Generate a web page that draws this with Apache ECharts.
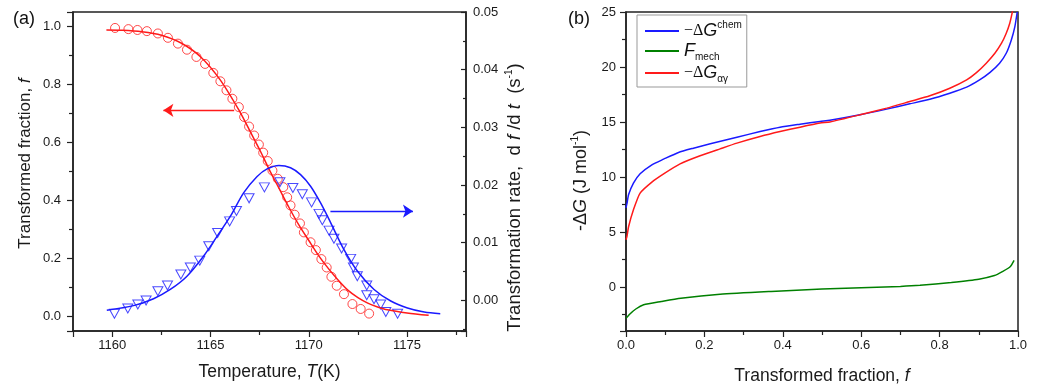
<!DOCTYPE html>
<html>
<head>
<meta charset="utf-8">
<script src="https://cdn.jsdelivr.net/npm/echarts@6/dist/echarts.min.js"></script>
<style>
html,body{margin:0;padding:0;background:#fff;}
#chart{width:1038px;height:391px;}
</style>
</head>
<body>
<div id="chart"></div>
<script>
// ---------- Panel (a): transformed fraction & transformation rate vs temperature ----------
const tempExpF = [1160.14,1160.82,1161.28,1161.76,1162.32,1162.83,1163.34,1163.80,1164.28,1164.72,1165.14,1165.50,1165.81,1166.11,1166.44,1166.71,1166.96,1167.22,1167.46,1167.68,1167.91,1168.15,1168.42,1168.70,1168.90,1169.07,1169.28,1169.55,1169.75,1170.09,1170.36,1170.64,1170.91,1171.15,1171.42,1171.79,1172.22,1172.64,1173.07];
const fracExp = [0.995,0.991,0.988,0.984,0.976,0.961,0.941,0.920,0.895,0.871,0.840,0.811,0.780,0.751,0.722,0.688,0.655,0.624,0.593,0.565,0.536,0.503,0.475,0.446,0.411,0.383,0.351,0.321,0.290,0.256,0.229,0.198,0.169,0.137,0.106,0.077,0.043,0.026,0.010];

const tempFitF = [1159.7,1160.5,1161.5,1162.5,1163.5,1164.5,1165.5,1166.5,1167.0,1167.5,1168.0,1168.5,1169.0,1169.5,1170.0,1170.5,1171.0,1171.5,1172.0,1172.5,1173.0,1173.5,1174.0,1175.0,1176.1];
const fracFit = [0.988,0.987,0.982,0.970,0.943,0.895,0.815,0.705,0.640,0.575,0.505,0.440,0.375,0.315,0.262,0.210,0.165,0.125,0.090,0.065,0.046,0.033,0.023,0.012,0.004];

const tempExpR = [1160.11,1160.79,1161.30,1161.72,1162.32,1162.81,1163.49,1163.97,1164.45,1164.91,1165.36,1165.97,1166.32,1166.96,1167.74,1168.53,1169.19,1169.67,1170.14,1170.52,1170.69,1171.03,1171.28,1171.67,1172.13,1172.27,1172.47,1172.95,1172.95,1173.32,1173.66,1173.92,1174.52];
const rateExp = [-0.0023,-0.0014,-0.0007,0.0000,0.0016,0.0026,0.0045,0.0057,0.0069,0.0094,0.0117,0.0137,0.0155,0.0177,0.0196,0.0205,0.0195,0.0184,0.0170,0.0150,0.0139,0.0121,0.0107,0.0090,0.0072,0.0057,0.0042,0.0026,0.0009,0.0002,-0.0007,-0.0020,-0.0023];

const tempFitR = [1159.72,1161.08,1162.10,1162.95,1163.80,1164.65,1165.33,1166.01,1166.69,1167.37,1167.88,1168.48,1169.07,1169.58,1170.09,1170.60,1171.11,1171.79,1172.47,1173.32,1174.17,1175.02,1175.87,1176.69];
const rateFit = [-0.0017,-0.0009,0.0003,0.0019,0.0042,0.0077,0.0111,0.0146,0.0187,0.0215,0.0228,0.0234,0.0230,0.0218,0.0198,0.0169,0.0135,0.0088,0.0051,0.0019,-0.0001,-0.0013,-0.0020,-0.0023];

// arrows (annotation, data coordinates)
const arrowFrac = [[1166.2, 0.711], [1162.6, 0.711]];
const arrowRate = [[1171.1, 0.01548], [1175.3, 0.01548]];

// ---------- Panel (b): driving forces vs transformed fraction ----------
const fracChem = [0,0.0025,0.0067,0.019,0.036,0.066,0.096,0.134,0.172,0.215,0.283,0.342,0.393,0.444,0.495,0.520,0.597,0.665,0.724,0.775,0.826,0.869,0.902,0.928,0.953,0.970,0.983,0.992,0.998];
const gChem = [7.2,7.6,8.4,9.44,10.29,11.11,11.62,12.23,12.62,13.02,13.62,14.13,14.53,14.8,15.05,15.15,15.65,16.17,16.65,17.07,17.62,18.17,18.83,19.49,20.35,21.25,22.46,23.67,25.0];

const fracMech = [0,0.01,0.025,0.045,0.09,0.14,0.24,0.37,0.50,0.62,0.70,0.75,0.83,0.90,0.94,0.96,0.98,0.99];
const gMech = [-2.85,-2.45,-2.0,-1.62,-1.32,-1.02,-0.66,-0.40,-0.18,-0.04,0.05,0.15,0.42,0.71,1.04,1.40,1.84,2.42];

const fracTot = [0,0.0025,0.0067,0.019,0.036,0.066,0.096,0.138,0.189,0.240,0.283,0.342,0.393,0.444,0.495,0.520,0.597,0.665,0.724,0.775,0.826,0.869,0.894,0.919,0.941,0.958,0.970,0.979,0.985,0.987];
const gTot = [4.3,4.6,5.5,7.02,8.54,9.54,10.29,11.20,11.93,12.56,13.08,13.68,14.13,14.53,14.9,15.0,15.65,16.26,16.86,17.38,18.07,18.83,19.49,20.35,21.25,22.16,23.07,23.98,24.89,25.3];

const zip = (xs, ys) => xs.map((x, i) => [x, ys[i]]);

const FONT = '"Liberation Sans", Arial, sans-serif';
const AX = '#222';
const TXT = '#1a1a1a';
const RED = '#ff1a1a', BLUE = '#1a1aff', GREEN = '#008000';

function nameStyle(size, padding) {
  return {
    color: TXT, fontSize: size, fontFamily: FONT, padding: padding || 0,
    rich: {
      i: { fontStyle: 'italic', fontSize: size, fontFamily: FONT, color: TXT, lineHeight: size + 4 },
      sup: { fontSize: 10, fontFamily: FONT, color: TXT, verticalAlign: 'top', lineHeight: 12 }
    }
  };
}

function axisCommon(extra) {
  return Object.assign({
    type: 'value',
    axisLine: { show: true, onZero: false, lineStyle: { color: AX, width: 1.5 } },
    axisTick: { show: true, inside: false, length: 6, lineStyle: { color: AX, width: 1.2 } },
    minorTick: { show: true, splitNumber: 2, length: 4, lineStyle: { color: AX, width: 1.2 } },
    splitLine: { show: false },
    minorSplitLine: { show: false },
    axisLabel: { color: TXT, fontSize: 13, fontFamily: FONT },
    nameLocation: 'middle'
  }, extra);
}

const near = (v, step) => Math.abs(v / step - Math.round(v / step)) < 1e-6;

const option = {
  animation: false,
  backgroundColor: '#fff',
  title: [
    { text: '(a)', left: 8, top: 5, textStyle: { fontSize: 18, fontWeight: 'normal', fontFamily: FONT, color: '#111' } },
    { text: '(b)', left: 563, top: 5, textStyle: { fontSize: 18, fontWeight: 'normal', fontFamily: FONT, color: '#111' } }
  ],
  grid: [
    { left: 73, top: 12, width: 393, height: 319, show: true, borderColor: AX, borderWidth: 1.5, backgroundColor: 'transparent' },
    { left: 626, top: 12, width: 392, height: 319, show: true, borderColor: AX, borderWidth: 1.5, backgroundColor: 'transparent' }
  ],
  legend: {
    data: ['chem', 'mech', 'tot'],
    orient: 'vertical',
    left: 637, top: 15,
    icon: 'rect',
    itemWidth: 34, itemHeight: 2, itemGap: 2,
    padding: [5, 5, 3, 8],
    borderColor: '#999', borderWidth: 1, borderRadius: 0,
    backgroundColor: '#fff',
    formatter: function (name) {
      if (name === 'chem') return '{n|−Δ}{g|G}{sup|chem}';
      if (name === 'mech') return '{g|F}{sub|mech}';
      return '{n|−Δ}{g|G}{sub|αγ}';
    },
    textStyle: {
      fontFamily: FONT, fontSize: 16, color: '#111',
      rich: {
        n: { fontSize: 16, fontFamily: '"Liberation Serif", serif', color: '#111', lineHeight: 22 },
        g: { fontSize: 18, fontStyle: 'italic', fontFamily: FONT, color: '#111', lineHeight: 22 },
        sup: { fontSize: 10, fontFamily: FONT, color: '#111', verticalAlign: 'top', lineHeight: 11 },
        sub: { fontSize: 10, fontFamily: FONT, color: '#111', verticalAlign: 'bottom', lineHeight: 9 }
      }
    }
  },
  xAxis: [
    axisCommon({
      gridIndex: 0, min: 1158, max: 1178, splitNumber: 4,
      axisLabel: { color: TXT, fontSize: 13, fontFamily: FONT, margin: 8,
        formatter: v => near(v, 5) ? String(Math.round(v)) : '' },
      name: 'Temperature, {i|T}(K)', nameGap: 30, nameTextStyle: nameStyle(17.5)
    }),
    axisCommon({
      gridIndex: 1, min: 0, max: 1, interval: 0.2,
      axisLabel: { color: TXT, fontSize: 13, fontFamily: FONT, margin: 8,
        formatter: v => v.toFixed(1) },
      name: 'Transformed fraction, {i|f}', nameGap: 34, nameTextStyle: nameStyle(17.5)
    })
  ],
  yAxis: [
    axisCommon({
      gridIndex: 0, position: 'left', min: -0.05, max: 1.05, splitNumber: 5,
      axisLabel: { color: TXT, fontSize: 13, fontFamily: FONT, margin: 12,
        formatter: v => (near(v, 0.2) && v > -0.01 && v < 1.01) ? v.toFixed(1) : '' },
      name: 'Transformed fraction, {i|f}', nameGap: 37, nameRotate: 90,
      nameTextStyle: nameStyle(17, [0, 0, 0, 16])
    }),
    axisCommon({
      gridIndex: 0, position: 'right', min: -0.0053, max: 0.05, splitNumber: 5,
      axisTick: { show: true, inside: true, length: 5, lineStyle: { color: AX, width: 1.2 } },
      minorTick: { show: true, splitNumber: 2, length: 3, lineStyle: { color: AX, width: 1.2 } },
      axisLabel: { color: TXT, fontSize: 13, fontFamily: FONT, margin: 7,
        formatter: v => (near(v, 0.01) && v > -0.001) ? v.toFixed(2) : '' },
      name: 'Transformation rate,  d {i|f} /d {i|t}  (s{sup|-1})', nameGap: 38, nameRotate: 90,
      nameTextStyle: nameStyle(18.5, [0, 52, 0, 0])
    }),
    axisCommon({
      gridIndex: 1, position: 'left', min: -4, max: 25, splitNumber: 6,
      axisLabel: { color: TXT, fontSize: 13, fontFamily: FONT, margin: 10,
        formatter: v => (near(v, 5) && v > -1) ? String(Math.round(v)) : '' },
      name: '-Δ{i|G} (J mol{sup|-1})', nameGap: 34, nameRotate: 90,
      nameTextStyle: nameStyle(18, [0, 18, 0, 0])
    })
  ],
  series: [
    {
      name: 'fexp', type: 'scatter', xAxisIndex: 0, yAxisIndex: 0,
      data: zip(tempExpF, fracExp),
      symbol: 'circle', symbolSize: 9,
      itemStyle: { color: 'transparent', borderColor: RED, borderWidth: 1 },
      z: 3
    },
    {
      name: 'ffit', type: 'line', xAxisIndex: 0, yAxisIndex: 0,
      data: zip(tempFitF, fracFit), smooth: 0.3,
      symbol: 'none', lineStyle: { color: RED, width: 1.5 }, itemStyle: { color: RED },
      markLine: {
        silent: true, symbol: ['none', 'arrow'], symbolSize: 10,
        label: { show: false },
        lineStyle: { color: RED, type: 'solid', width: 1.3 },
        data: [[{ coord: arrowFrac[0] }, { coord: arrowFrac[1] }]]
      },
      z: 4
    },
    {
      name: 'rexp', type: 'scatter', xAxisIndex: 0, yAxisIndex: 1,
      data: zip(tempExpR, rateExp),
      symbol: 'triangle', symbolRotate: 180, symbolSize: [10, 9],
      itemStyle: { color: 'transparent', borderColor: BLUE, borderWidth: 1 },
      z: 3
    },
    {
      name: 'rfit', type: 'line', xAxisIndex: 0, yAxisIndex: 1,
      data: zip(tempFitR, rateFit), smooth: 0.3,
      symbol: 'none', lineStyle: { color: BLUE, width: 1.5 }, itemStyle: { color: BLUE },
      markLine: {
        silent: true, symbol: ['none', 'arrow'], symbolSize: 10,
        label: { show: false },
        lineStyle: { color: BLUE, type: 'solid', width: 1.3 },
        data: [[{ coord: arrowRate[0] }, { coord: arrowRate[1] }]]
      },
      z: 4
    },
    {
      name: 'chem', type: 'line', xAxisIndex: 1, yAxisIndex: 2,
      data: zip(fracChem, gChem), smooth: 0.2,
      symbol: 'none', lineStyle: { color: BLUE, width: 1.5 }, itemStyle: { color: BLUE }
    },
    {
      name: 'mech', type: 'line', xAxisIndex: 1, yAxisIndex: 2,
      data: zip(fracMech, gMech), smooth: 0.2,
      symbol: 'none', lineStyle: { color: GREEN, width: 1.5 }, itemStyle: { color: GREEN }
    },
    {
      name: 'tot', type: 'line', xAxisIndex: 1, yAxisIndex: 2,
      data: zip(fracTot, gTot), smooth: 0.2,
      symbol: 'none', lineStyle: { color: RED, width: 1.5 }, itemStyle: { color: RED }
    }
  ]
};

const chart = echarts.init(document.getElementById('chart'), null, { renderer: 'canvas', width: 1038, height: 391 });
chart.setOption(option);
</script>
</body>
</html>
